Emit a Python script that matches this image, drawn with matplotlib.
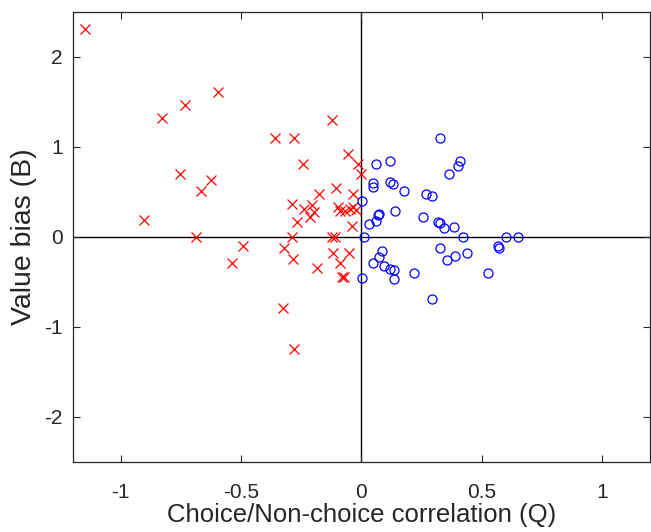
import numpy as np
import matplotlib
matplotlib.use('Agg')
import matplotlib.pyplot as plt

plt.rcParams['font.family'] = ['Liberation Sans', 'DejaVu Sans']
plt.rcParams['axes.unicode_minus'] = False

# red crosses: Q < 0
q_neg = [-1.15, -0.828, -0.731, -0.596, -0.360, -0.281, -0.123, -0.242, -0.056, -0.015,
         -0.001, -0.753, -0.623, -0.664, -0.904, -0.686, -0.175, -0.106, -0.033, -0.288,
         -0.205, -0.240, -0.198, -0.212, -0.267, -0.095, -0.088, -0.067, -0.047, -0.033,
         -0.022, -0.037, -0.288, -0.123, -0.109, -0.490, -0.539, -0.321, -0.284, -0.185,
         -0.116, -0.051, -0.088, -0.081, -0.071, -0.324, -0.278]
b_neg = [2.31, 1.326, 1.467, 1.611, 1.104, 1.104, 1.30, 0.815, 0.922, 0.807,
         0.70, 0.696, 0.637, 0.511, 0.185, 0.0, 0.474, 0.541, 0.478, 0.367,
         0.356, 0.307, 0.281, 0.226, 0.167, 0.337, 0.293, 0.293, 0.307, 0.337,
         0.30, 0.122, 0.0, 0.0, 0.0, -0.104, -0.285, -0.119, -0.244, -0.348,
         -0.181, -0.181, -0.293, -0.44, -0.44, -0.789, -1.248]

# blue circles: Q > 0
q_pos = [0.328, 0.410, 0.401, 0.365, 0.063, 0.119, 0.120, 0.132, 0.050, 0.047,
         0.176, 0.270, 0.293, 0.005, 0.140, 0.073, 0.070, 0.063, 0.032, 0.256,
         0.318, 0.329, 0.343, 0.386, 0.010, 0.421, 0.603, 0.653, 0.329, 0.570,
         0.573, 0.441, 0.388, 0.357, 0.088, 0.074, 0.047, 0.095, 0.118, 0.136,
         0.218, 0.136, 0.004, 0.525, 0.295]
b_pos = [1.10, 0.848, 0.789, 0.696, 0.815, 0.848, 0.615, 0.589, 0.604, 0.559,
         0.511, 0.474, 0.456, 0.404, 0.285, 0.256, 0.245, 0.181, 0.141, 0.222,
         0.170, 0.152, 0.096, 0.107, 0.0, 0.003, 0.003, 0.003, -0.119, -0.100,
         -0.120, -0.181, -0.207, -0.250, -0.152, -0.226, -0.285, -0.322, -0.356, -0.367,
         -0.404, -0.467, -0.452, -0.404, -0.693]

fig = plt.figure(figsize=(6.51, 5.32), dpi=100)
ax = fig.add_axes([72.5/651, 70/532, 577.5/651, 450/532])

ax.axhline(0, color='k', lw=1.0, zorder=1)
ax.axvline(0, color='k', lw=1.0, zorder=1)

ax.plot(q_neg, b_neg, 'x', color='red', ms=6.5, mew=0.9, zorder=3)
ax.plot(q_pos, b_pos, 'o', color='blue', mfc='none', ms=6.5, mew=0.9, zorder=3)

ax.set_xlim(-1.2, 1.2)
ax.set_ylim(-2.5, 2.5)
ax.set_xticks([-1, -0.5, 0, 0.5, 1])
ax.set_xticklabels(['-1', '-0.5', '0', '0.5', '1'])
ax.set_yticks([-2, -1, 0, 1, 2])
ax.set_yticklabels(['-2', '-1', '0', '1', '2'])
ax.tick_params(direction='in', top=True, right=True, length=5, width=0.8,
               labelsize=15, colors='#262626')
ax.tick_params(axis='x', pad=15)
ax.tick_params(axis='y', pad=7)
for s in ax.spines.values():
    s.set_color('#262626')
    s.set_linewidth(0.9)

ax.set_xlabel('Choice/Non-choice correlation (Q)', fontsize=18.5, color='#262626', labelpad=1)
ax.set_ylabel('Value bias (B)', fontsize=20.5, color='#262626', labelpad=5)

fig.savefig('out.png', dpi=100)
